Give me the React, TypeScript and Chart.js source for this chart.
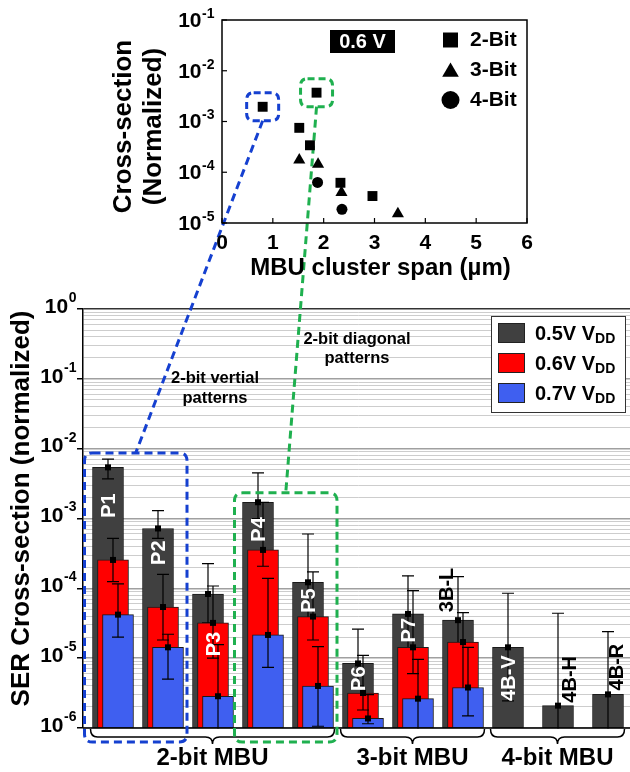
import React, { useEffect, useRef } from 'react';
import { Chart, registerables } from 'chart.js';

Chart.register(...registerables);

const FONT = '"Liberation Sans", Arial, Helvetica, sans-serif';

// ---------- main chart data ----------
const CATEGORIES = ['P1', 'P2', 'P3', 'P4', 'P5', 'P6', 'P7', '3B-L', '4B-V', '4B-H', '4B-R'];
const VDD_LABELS = ['0.5V', '0.6V', '0.7V'];

const SER_05V = [5.4e-3, 7.2e-4, 8.3e-5, 1.71e-3, 1.22e-4, 8.4e-6, 4.3e-5, 3.5e-5, 1.43e-5, 2.09e-6, 3.03e-6];
const SER_05V_HI = [7.1e-3, 1.3e-3, 2.26e-4, 4.5e-3, 6.0e-4, 2.6e-5, 1.51e-4, 1.47e-4, 8.5e-5, 4.4e-5, 2.4e-5];
const SER_05V_LO = [3.7e-3, 5.2e-4, 3.2e-5, 1.0e-3, 2.6e-5, 4.0e-6, 1.2e-5, 8.6e-6, 2.44e-6, 5e-7, 5e-7];

const SER_06V = [2.55e-4, 5.4e-5, 3.2e-5, 3.55e-4, 3.94e-5, 3.17e-6, 1.43e-5, 1.7e-5, null, null, null];
const SER_06V_HI = [5.2e-4, 1.58e-4, 1.08e-4, 1.7e-3, 1.72e-4, 1.1e-5, 9.3e-5, 4.5e-5, null, null, null];
const SER_06V_LO = [1.25e-4, 1.82e-5, 1.0e-5, 2.07e-4, 1.82e-5, 1.81e-6, 6.0e-6, 3.3e-6, null, null, null];

const SER_07V = [4.2e-5, 1.43e-5, 2.85e-6, 2.15e-5, 4.0e-6, 1.37e-6, 2.63e-6, 3.8e-6, null, null, null];
const SER_07V_HI = [1.16e-4, 2.2e-5, 1.56e-5, 1.39e-4, 1.46e-5, 3.0e-6, 9.6e-6, 1.43e-5, null, null, null];
const SER_07V_LO = [2.0e-5, 5.0e-6, 5e-7, 7.4e-6, 1.06e-6, 1.15e-6, 5e-7, 1.49e-6, null, null, null];

const Y_EXPONENTS = [0, -1, -2, -3, -4, -5, -6];

const GROUP_NAMES = ['2-bit MBU', '3-bit MBU', '4-bit MBU'];
const GROUP_FIRST = [0, 5, 8];
const GROUP_LAST = [4, 7, 10];

// which series bar carries each category's label, and whether it sits inside
const LABEL_ON_SERIES = [0, 0, 1, 0, 0, 0, 0, 0, 0, 0, 0];
const LABEL_INSIDE = [true, true, true, true, true, true, true, false, true, false, false];

const HIGHLIGHT_FIRST = [0, 3];
const HIGHLIGHT_LAST = [1, 4];
const HIGHLIGHT_TOP = [8.7e-3, 2.33e-3];
const PATTERN_NOTES = [['2-bit vertial', 'patterns'], ['2-bit diagonal', 'patterns']];

// ---------- inset data ----------
const TWO_BIT_SPAN = [0.8, 1.86, 1.52, 1.73, 2.33, 2.96];
const TWO_BIT_CS = [1.95e-3, 3.7e-3, 7.5e-4, 3.4e-4, 6.2e-5, 3.4e-5];
const THREE_BIT_SPAN = [1.52, 1.89, 2.35, 3.46];
const THREE_BIT_CS = [1.74e-4, 1.44e-4, 4.0e-5, 1.52e-5];
const FOUR_BIT_SPAN = [1.88, 2.36];
const FOUR_BIT_CS = [6.3e-5, 1.86e-5];
const INSET_SERIES = ['2-Bit', '3-Bit', '4-Bit'];
const INSET_X_TICKS = [0, 1, 2, 3, 4, 5, 6];
const INSET_Y_EXPONENTS = [-1, -2, -3, -4, -5];
const INSET_TAG = '0.6 V';

// ---------- styling ----------
const SERIES = [SER_05V, SER_06V, SER_07V];
const SERIES_HI = [SER_05V_HI, SER_06V_HI, SER_07V_HI];
const SERIES_LO = [SER_05V_LO, SER_06V_LO, SER_07V_LO];
const BAR_COLORS = ['#404040', '#ff0000', '#3f5ff0'];
const BAR_OFFSETS = [0, 0.1, 0.2];
const HL_COLORS = ['#1540d0', '#1fb04f'];
const LABEL_PAD = [26, 12, 9, 15, 6, 3, 4, 8, 8, 3, 4];
const LABEL_DX = [0, 0, 0, 0, 0, 0, 0, -12, 0, 11, 8];

const GRID_VALUES: number[] = [];
for (let e = -6; e < 0; e++) {
  for (let m = 1; m <= 9; m++) GRID_VALUES.push(Number((m * Math.pow(10, e)).toPrecision(3)));
}
GRID_VALUES.push(1);

const isDecade = (v: number) => {
  if (!v) return false;
  const l = Math.log10(v);
  return Math.abs(l - Math.round(l)) < 1e-6;
};

function drawPow(ctx: CanvasRenderingContext2D, exp: number, right: number, y: number, base: number, sup: number, raise: number) {
  const expStr = String(exp);
  ctx.font = `bold ${base}px ${FONT}`;
  const w1 = ctx.measureText('10').width;
  ctx.font = `bold ${sup}px ${FONT}`;
  const w2 = ctx.measureText(expStr).width;
  const start = right - w1 - w2;
  ctx.textAlign = 'left';
  ctx.textBaseline = 'middle';
  ctx.font = `bold ${base}px ${FONT}`;
  ctx.fillText('10', start, y);
  ctx.font = `bold ${sup}px ${FONT}`;
  ctx.fillText(expStr, start + w1 + 0.5, y - raise);
}

function roundRect(ctx: CanvasRenderingContext2D, x: number, y: number, w: number, h: number, r: number) {
  ctx.beginPath();
  ctx.moveTo(x + r, y);
  ctx.lineTo(x + w - r, y);
  ctx.quadraticCurveTo(x + w, y, x + w, y + r);
  ctx.lineTo(x + w, y + h - r);
  ctx.quadraticCurveTo(x + w, y + h, x + w - r, y + h);
  ctx.lineTo(x + r, y + h);
  ctx.quadraticCurveTo(x, y + h, x, y + h - r);
  ctx.lineTo(x, y + r);
  ctx.quadraticCurveTo(x, y, x + r, y);
  ctx.closePath();
}

function line(ctx: CanvasRenderingContext2D, x1: number, y1: number, x2: number, y2: number) {
  ctx.beginPath();
  ctx.moveTo(x1, y1);
  ctx.lineTo(x2, y2);
  ctx.stroke();
}

function drawMarker(ctx: CanvasRenderingContext2D, style: string, cx: number, cy: number, r: number) {
  ctx.beginPath();
  if (style === 'rect') {
    const s = r * Math.SQRT1_2;
    ctx.rect(cx - s, cy - s, 2 * s, 2 * s);
  } else if (style === 'triangle') {
    for (let i = 0; i < 3; i++) {
      const ang = (i * 2 * Math.PI) / 3;
      const px = cx + Math.sin(ang) * r;
      const py = cy - Math.cos(ang) * r;
      if (i === 0) ctx.moveTo(px, py);
      else ctx.lineTo(px, py);
    }
    ctx.closePath();
  } else {
    ctx.arc(cx, cy, r, 0, Math.PI * 2);
  }
  ctx.fill();
}

const insetPlugin = {
  id: 'insetDeco',
  beforeDatasetsDraw(chart: any) {
    const { ctx, chartArea: a, scales } = chart;
    const x = scales.x, y = scales.y;
    ctx.save();
    ctx.strokeStyle = '#000';
    ctx.lineWidth = 1.5;
    ctx.strokeRect(a.left, a.top, a.right - a.left, a.bottom - a.top);
    ctx.lineWidth = 1.2;
    INSET_X_TICKS.forEach((v) => {
      const px = x.getPixelForValue(v);
      line(ctx, px, a.bottom, px, a.bottom - 5);
    });
    INSET_Y_EXPONENTS.forEach((e) => {
      const py = y.getPixelForValue(Math.pow(10, e));
      line(ctx, a.left, py, a.left + 5, py);
    });
    ctx.fillStyle = '#000';
    INSET_Y_EXPONENTS.forEach((e) => {
      drawPow(ctx, e, a.left - 8, y.getPixelForValue(Math.pow(10, e)) + 1, 21, 14, 7);
    });
    ctx.font = `bold 21px ${FONT}`;
    ctx.textAlign = 'center';
    ctx.textBaseline = 'middle';
    INSET_X_TICKS.forEach((v) => ctx.fillText(String(v), x.getPixelForValue(v), a.bottom + 20));
    ctx.font = `bold 24px ${FONT}`;
    ctx.fillText('MBU cluster span (\u00b5m)', (a.left + a.right) / 2 + 6, a.bottom + 45);
    // y title
    ctx.save();
    ctx.translate(124, (a.top + a.bottom) / 2 + 5);
    ctx.rotate(-Math.PI / 2);
    ctx.font = `bold 26px ${FONT}`;
    ctx.fillText('Cross-section', 0, 0);
    ctx.fillText('(Normalized)', 0, 30);
    ctx.restore();
    // tag box
    ctx.fillStyle = '#000';
    ctx.fillRect(a.left + 108, a.top + 10, 65, 23);
    ctx.fillStyle = '#fff';
    ctx.font = `bold 20px ${FONT}`;
    ctx.fillText(INSET_TAG, a.left + 140.5, a.top + 22);
    // legend
    const styles = ['rect', 'triangle', 'circle'];
    const radii = [10.6, 9.6, 9];
    const dy = [0, 2, 0];
    INSET_SERIES.forEach((name, k) => {
      const cy = a.top + 20 + k * 30;
      ctx.fillStyle = '#000';
      drawMarker(ctx, styles[k], a.left + 228.5, cy + dy[k], radii[k]);
      ctx.font = `bold 21px ${FONT}`;
      ctx.textAlign = 'left';
      ctx.textBaseline = 'middle';
      ctx.fillText(name, a.left + 248, cy);
    });
    ctx.restore();
  },
  afterDatasetsDraw(chart: any) {
    const { ctx, scales } = chart;
    const x = scales.x, y = scales.y;
    ctx.save();
    ctx.lineWidth = 3;
    ctx.setLineDash([7, 4]);
    [0, 1].forEach((k) => {
      const px = x.getPixelForValue(TWO_BIT_SPAN[k]);
      const py = y.getPixelForValue(TWO_BIT_CS[k]);
      ctx.strokeStyle = HL_COLORS[k];
      roundRect(ctx, px - 16, py - 14, 32, 28, 7);
      ctx.stroke();
    });
    ctx.restore();
  },
};

function makeMainPlugin(inset: any) {
  return {
    id: 'mainDeco',
    afterDatasetDraw(chart: any, args: any) {
      const { ctx, chartArea: a, scales } = chart;
      const y = scales.y;
      const ds = chart.data.datasets[args.index];
      const s = ds.seriesIndex;
      ctx.save();
      ctx.beginPath();
      ctx.rect(a.left, a.top - 20, a.right - a.left, a.bottom - a.top + 20.5);
      ctx.clip();
      ctx.strokeStyle = '#000';
      ctx.fillStyle = '#000';
      ctx.lineWidth = 1.2;
      args.meta.data.forEach((el: any, j: number) => {
        const i = ds.data[j].idx;
        const v = SERIES[s][i], hi = SERIES_HI[s][i], lo = SERIES_LO[s][i];
        if (v == null) return;
        const px = el.x;
        const yh = y.getPixelForValue(hi);
        const yl = lo >= 1e-6 ? y.getPixelForValue(lo) : a.bottom + 5;
        line(ctx, px, yh, px, yl);
        line(ctx, px - 6, yh, px + 6, yh);
        if (lo >= 1e-6) line(ctx, px - 6, yl, px + 6, yl);
        const yv = y.getPixelForValue(v);
        ctx.fillRect(px - 3, yv - 3, 6, 6);
      });
      ctx.restore();
    },
    afterDatasetsDraw(chart: any) {
      const { ctx } = chart;
      ctx.save();
      ctx.font = `bold 20px ${FONT}`;
      ctx.textBaseline = 'middle';
      CATEGORIES.forEach((lab, i) => {
        const s = LABEL_ON_SERIES[i];
        const ds = chart.data.datasets[s];
        const meta = chart.getDatasetMeta(s);
        const j = ds.data.findIndex((d: any) => d.idx === i);
        if (j < 0) return;
        const el = meta.data[j];
        ctx.save();
        if (LABEL_INSIDE[i]) {
          ctx.translate(el.x + LABEL_DX[i], el.y + LABEL_PAD[i]);
          ctx.rotate(-Math.PI / 2);
          ctx.textAlign = 'right';
          ctx.fillStyle = '#fff';
        } else {
          ctx.translate(el.x + LABEL_DX[i], el.y - LABEL_PAD[i]);
          ctx.rotate(-Math.PI / 2);
          ctx.textAlign = 'left';
          ctx.fillStyle = '#000';
        }
        ctx.fillText(lab, 0, 1);
        ctx.restore();
      });
      ctx.restore();
    },
    afterDraw(chart: any) {
      const { ctx, chartArea: a, scales } = chart;
      const x = scales.x, y = scales.y;
      ctx.save();
      // bottom axis
      ctx.strokeStyle = '#000';
      ctx.lineWidth = 1.5;
      line(ctx, a.left, a.bottom, a.right, a.bottom);
      // y tick labels
      ctx.fillStyle = '#000';
      Y_EXPONENTS.forEach((e) => {
        drawPow(ctx, e, 76, y.getPixelForValue(Math.pow(10, e)) - 2, 21, 14, 9);
      });
      // y title
      ctx.save();
      ctx.translate(22, (a.top + a.bottom) / 2 - 10);
      ctx.rotate(-Math.PI / 2);
      ctx.font = `bold 26px ${FONT}`;
      ctx.textAlign = 'center';
      ctx.textBaseline = 'middle';
      ctx.fillText('SER Cross-section (normalized)', 0, 0);
      ctx.restore();
      // braces + group labels
      ctx.lineWidth = 1.5;
      GROUP_NAMES.forEach((g, k) => {
        const last = GROUP_LAST[k];
        const lastOff = SER_07V[last] != null ? BAR_OFFSETS[2] : SER_06V[last] != null ? BAR_OFFSETS[1] : 0;
        const xa = x.getPixelForValue(GROUP_FIRST[k] - 0.35);
        const xb = x.getPixelForValue(last + lastOff + 0.33);
        const mid = (xa + xb) / 2;
        const y0 = a.bottom + 1, y1 = a.bottom + 9, y2 = a.bottom + 16;
        ctx.beginPath();
        ctx.moveTo(xa, y0);
        ctx.quadraticCurveTo(xa, y1, xa + 7, y1);
        ctx.lineTo(mid - 7, y1);
        ctx.quadraticCurveTo(mid, y1, mid, y2);
        ctx.quadraticCurveTo(mid, y1, mid + 7, y1);
        ctx.lineTo(xb - 7, y1);
        ctx.quadraticCurveTo(xb, y1, xb, y0);
        ctx.stroke();
        ctx.font = `bold 24px ${FONT}`;
        ctx.textAlign = 'center';
        ctx.textBaseline = 'middle';
        ctx.fillText(g, mid, a.bottom + 30);
      });
      // legend
      const lx = a.right - 142, ly = a.top + 7;
      ctx.fillStyle = '#fff';
      ctx.fillRect(lx, ly, 134, 96);
      ctx.strokeStyle = '#333';
      ctx.lineWidth = 1;
      ctx.strokeRect(lx + 0.5, ly + 0.5, 134, 96);
      VDD_LABELS.forEach((lab, k) => {
        const cy = ly + 17 + k * 30;
        ctx.fillStyle = BAR_COLORS[k];
        ctx.fillRect(lx + 7, cy - 10, 27, 20);
        ctx.strokeStyle = '#222';
        ctx.strokeRect(lx + 7.5, cy - 9.5, 26, 19);
        ctx.fillStyle = '#000';
        ctx.textAlign = 'left';
        ctx.textBaseline = 'alphabetic';
        ctx.font = `bold 20px ${FONT}`;
        const t = lab + ' V';
        ctx.fillText(t, lx + 44, cy + 7);
        const w = ctx.measureText(t).width;
        ctx.font = `bold 14px ${FONT}`;
        ctx.fillText('DD', lx + 44 + w, cy + 10);
      });
      // notes
      ctx.fillStyle = '#000';
      ctx.font = `bold 16.5px ${FONT}`;
      ctx.textAlign = 'center';
      ctx.textBaseline = 'middle';
      const notePos = [[2.14, -1.0], [4.98, -0.43]];
      PATTERN_NOTES.forEach((lines, k) => {
        const px = x.getPixelForValue(notePos[k][0]);
        const py = y.getPixelForValue(Math.pow(10, notePos[k][1]));
        lines.forEach((t, n) => ctx.fillText(t, px, py + n * 19.5));
      });
      // highlight boxes + connectors
      ctx.lineWidth = 3;
      ctx.setLineDash([8, 5]);
      [0, 1].forEach((k) => {
        const left = x.getPixelForValue(HIGHLIGHT_FIRST[k] - 0.47);
        const right = x.getPixelForValue(HIGHLIGHT_LAST[k] + 0.58);
        const top = y.getPixelForValue(HIGHLIGHT_TOP[k]);
        const bottom = a.bottom + 14;
        ctx.strokeStyle = HL_COLORS[k];
        roundRect(ctx, left, top, right - left, bottom - top, 8);
        ctx.stroke();
        if (inset) {
          const ix = inset.scales.x.getPixelForValue(TWO_BIT_SPAN[k]);
          const iy = inset.scales.y.getPixelForValue(TWO_BIT_CS[k]) + 14;
          line(ctx, ix, iy, (left + right) / 2, top);
        }
      });
      ctx.restore();
    },
  };
}

export default function App() {
  const insetRef = useRef<HTMLCanvasElement>(null);
  const mainRef = useRef<HTMLCanvasElement>(null);

  useEffect(() => {
    const inset = new Chart(insetRef.current as HTMLCanvasElement, {
      type: 'scatter',
      data: {
        datasets: [
          { label: INSET_SERIES[0], data: TWO_BIT_SPAN.map((v, i) => ({ x: v, y: TWO_BIT_CS[i] })), pointStyle: 'rect', pointRadius: 7, backgroundColor: '#000', borderColor: '#000', borderWidth: 0 },
          { label: INSET_SERIES[1], data: THREE_BIT_SPAN.map((v, i) => ({ x: v, y: THREE_BIT_CS[i] })), pointStyle: 'triangle', pointRadius: 7, backgroundColor: '#000', borderColor: '#000', borderWidth: 0 },
          { label: INSET_SERIES[2], data: FOUR_BIT_SPAN.map((v, i) => ({ x: v, y: FOUR_BIT_CS[i] })), pointStyle: 'circle', pointRadius: 5.5, backgroundColor: '#000', borderColor: '#000', borderWidth: 0 },
        ],
      },
      options: {
        animation: false,
        responsive: false,
        events: [],
        layout: { padding: { left: 222, right: 103, top: 20, bottom: 77 } },
        plugins: { legend: { display: false }, tooltip: { enabled: false } },
        scales: {
          x: { type: 'linear', min: 0, max: 6, display: false },
          y: { type: 'logarithmic', min: 1e-5, max: 1e-1, display: false },
        },
      } as any,
      plugins: [insetPlugin as any],
    });

    const main = new Chart(mainRef.current as HTMLCanvasElement, {
      type: 'bar',
      data: {
        datasets: [0, 1, 2].map((s) => ({
          label: VDD_LABELS[s],
          data: SERIES[s]
            .map((v, i) => (v == null ? null : { x: i + BAR_OFFSETS[s], y: v, idx: i }))
            .filter((d) => d !== null),
          backgroundColor: BAR_COLORS[s],
          borderColor: '#1a1a1a',
          borderWidth: 1,
          borderSkipped: false,
          barThickness: 31,
          grouped: false,
          order: 3 - s,
          seriesIndex: s,
        })) as any,
      },
      options: {
        animation: false,
        responsive: false,
        events: [],
        layout: { padding: { left: 0, right: 7, top: 309, bottom: 44 } },
        plugins: { legend: { display: false }, tooltip: { enabled: false } },
        scales: {
          x: { type: 'linear', min: -0.5, max: 10.5, offset: false, display: false },
          y: {
            type: 'logarithmic',
            min: 1e-6,
            max: 1,
            afterBuildTicks: (sc: any) => {
              sc.ticks = GRID_VALUES.map((v) => ({ value: v }));
            },
            afterFit: (sc: any) => {
              sc.width = 83;
            },
            ticks: { display: false },
            grid: {
              color: (c: any) => {
                const v = c.tick && c.tick.value;
                if (v === 1) return '#333';
                return isDecade(v) ? '#a0a0a0' : '#cdcdcd';
              },
              lineWidth: (c: any) => (isDecade(c.tick && c.tick.value) ? 1.5 : 1),
              tickColor: (c: any) => (isDecade(c.tick && c.tick.value) ? '#000' : 'rgba(0,0,0,0)'),
              tickLength: 6,
              drawTicks: true,
            },
            border: { color: '#000', width: 1.5 },
          },
        },
      } as any,
      plugins: [makeMainPlugin(inset) as any],
    });

    return () => {
      main.destroy();
      inset.destroy();
    };
  }, []);

  return (
    <div style={{ position: 'fixed', left: 0, top: 0, width: 630, height: 772, overflow: 'hidden', background: '#fff' }}>
      <canvas ref={mainRef} width={640} height={772} style={{ position: 'absolute', left: 0, top: 0 }} />
      <canvas ref={insetRef} width={630} height={300} style={{ position: 'absolute', left: 0, top: 0 }} />
    </div>
  );
}
